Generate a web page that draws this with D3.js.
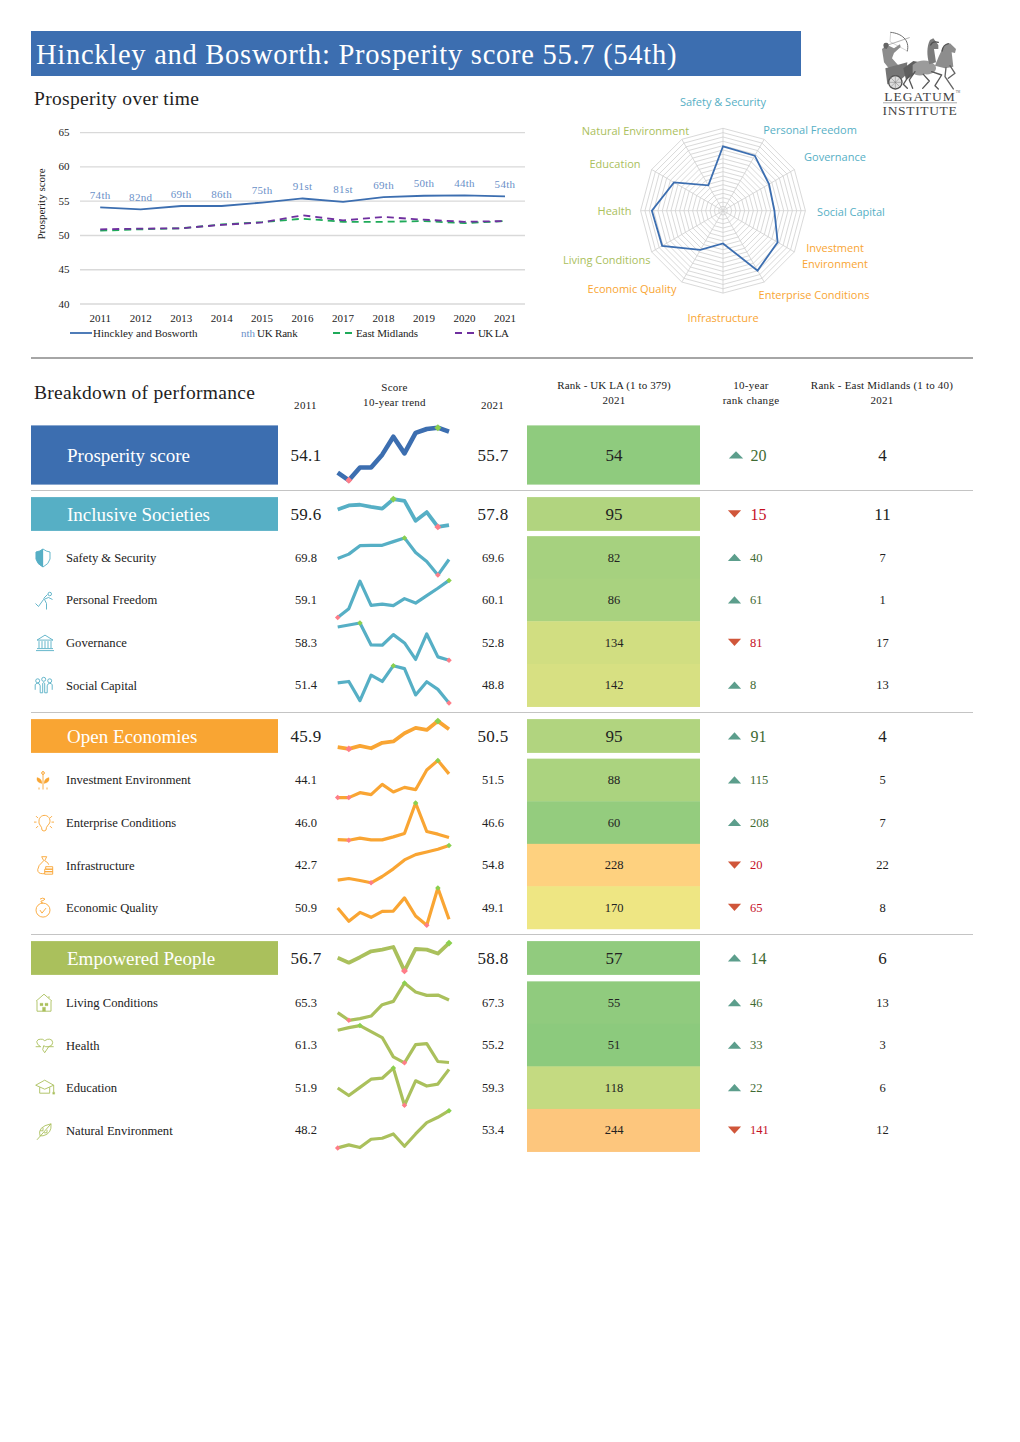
<!DOCTYPE html>
<html><head><meta charset="utf-8">
<script src="https://cdn.jsdelivr.net/npm/d3@7/dist/d3.min.js"></script>
<style>html,body{margin:0;padding:0;background:#fff}svg{display:block;font-family:"Liberation Serif",serif}</style>
</head><body><svg id="c" width="1020" height="1442"></svg>
<script>
// ---------- data ----------
const years=[2011,2012,2013,2014,2015,2016,2017,2018,2019,2020,2021];
const hinckley=[54.1,53.8,54.3,54.3,54.8,55.4,54.9,55.6,55.8,55.85,55.7];
const eastMidlands=[50.7,50.9,51.05,51.6,51.95,52.45,52.0,52.0,52.1,51.8,52.1];
const ukLA=[50.9,51.0,51.05,51.55,51.9,52.95,52.2,52.7,52.3,52.0,52.1];
const rankLabels=["74th","82nd","69th","86th","75th","91st","81st","69th","50th","44th","54th"];
const yTicks=[40,45,50,55,60,65];

const names=["Prosperity score","Inclusive Societies","Safety & Security","Personal Freedom","Governance","Social Capital","Open Economies","Investment Environment","Enterprise Conditions","Infrastructure","Economic Quality","Empowered People","Living Conditions","Health","Education","Natural Environment"];
const score2011=["54.1","59.6","69.8","59.1","58.3","51.4","45.9","44.1","46.0","42.7","50.9","56.7","65.3","61.3","51.9","48.2"];
const score2021=["55.7","57.8","69.6","60.1","52.8","48.8","50.5","51.5","46.6","54.8","49.1","58.8","67.3","55.2","59.3","53.4"];
const ranks=[54,95,82,86,134,142,95,88,60,228,170,57,55,51,118,244];
const rankChange=[20,-15,40,61,-81,8,91,115,208,-20,-65,14,46,33,22,-141];
const regionRanks=[4,11,7,1,17,13,4,5,7,22,8,6,13,3,6,12];

const trendProsperity=[54.1,53.8,54.3,54.3,54.8,55.5,54.85,55.65,55.8,55.85,55.7];
const trendInclusive=[59.6,60.07,60.15,59.9,59.7,60.8,60.6,58.3,59.3,57.6,57.8];
const trendSafety=[69.8,70.45,71.7,71.75,71.75,72.3,72.85,70.7,69.35,67.35,69.65];
const trendFreedom=[59.1,59.34,60.08,59.43,59.46,59.42,59.61,59.49,59.69,59.89,60.1];
const trendGovernance=[58.3,58.63,58.96,55.33,55.28,57.04,55.66,52.92,57.15,53.35,52.8];
const trendSocial=[51.4,51.57,49.1,52.38,51.57,53.61,53.23,49.83,51.53,50.55,48.8];
const trendOpen=[45.9,45.47,46.25,45.64,47.03,47.38,49.47,50.86,50.33,52.6,50.5];
const trendInvestment=[44.1,44.1,45.64,45.02,48.21,45.85,47.29,46.57,52.73,55.71,51.5];
const trendEnterprise=[46,45.8,46.4,45.9,45.9,46.8,47.8,56.9,48.4,47.6,46.6];
const trendInfrastructure=[42.7,43.28,42.58,41.77,43.98,46.65,49.79,51.65,52.58,53.51,54.8];
const trendEconomic=[50.9,48.78,50.21,49.42,50.37,50.42,52.54,49.63,48.15,54.13,49.1];
const trendEmpowered=[56.7,56.0,56.79,57.63,57.87,58.24,54.83,57.96,57.87,57.31,58.8];
const trendLiving=[65.3,64.09,64.35,64.77,66.56,67.09,69.98,68.56,68.04,68.09,67.3];
const trendHealth=[61.3,61.8,62.18,61.05,59.93,56.3,55.18,58.61,58.8,55.43,55.24];
const trendEducation=[51.9,48.91,52.16,55.41,55.8,59.82,45.02,54.76,52.68,53.46,59.3];
const trendNatural=[48.2,48.62,48.25,49.41,49.55,50.15,48.43,50.15,51.73,52.48,53.4];
const trends=[trendProsperity,trendInclusive,trendSafety,trendFreedom,trendGovernance,trendSocial,trendOpen,trendInvestment,trendEnterprise,trendInfrastructure,trendEconomic,trendEmpowered,trendLiving,trendHealth,trendEducation,trendNatural];

const radarLabels=["Safety & Security","Personal Freedom","Governance","Social Capital","Investment|Environment","Enterprise Conditions","Infrastructure","Economic Quality","Living Conditions","Health","Education","Natural Environment"];
const radarRanks=[82,86,134,142,88,60,228,170,55,51,118,244];

// ---------- layout / style ----------
const BLUE="#3c6eb0",TEAL="#56afc5",ORANGE="#f9a533",GREEN="#aac05c";
const rowKinds=["main","head","sub","sub","sub","sub","head","sub","sub","sub","sub","head","sub","sub","sub","sub"];
const rowCY=[455,514,557.5,600,642.6,685.3,736,780,822.6,865.2,907.6,958,1002.7,1045.2,1087.7,1130.3];
const rowCol=[BLUE,TEAL,TEAL,TEAL,TEAL,TEAL,ORANGE,ORANGE,ORANGE,ORANGE,ORANGE,GREEN,GREEN,GREEN,GREEN,GREEN];
const halfCell={main:29.6,head:16.9,sub:21.35};
const halfSpark={main:26.3,head:13.9,sub:18.6};
const fs={main:17,head:17,sub:12.5};

const svg=d3.select("#c");
const T=(g,x,y,s,o={})=>{const t=g.append("text").attr("x",x).attr("y",y).text(s)
  .attr("font-size",o.size||12).attr("fill",o.fill||"#222").attr("text-anchor",o.anchor||"start");
  if(o.ls)t.attr("letter-spacing",o.ls); if(o.family)t.attr("font-family",o.family); return t;};

// title
svg.append("rect").attr("x",31).attr("y",31).attr("width",770).attr("height",45).attr("fill",BLUE);
T(svg,36,64,"Hinckley and Bosworth: Prosperity score 55.7 (54th)",{size:28.5,fill:"#fff",ls:"0.73px"});
T(svg,34,105,"Prosperity over time",{size:19.5,ls:"0.3px"});

// line chart
const x=d3.scalePoint().domain(years).range([100.2,505]);
const y=d3.scaleLinear().domain([40,65]).range([304,132.7]);
const lc=svg.append("g");
lc.append("g").selectAll("line").data(yTicks).join("line")
  .attr("x1",80).attr("x2",525).attr("y1",d=>y(d)).attr("y2",d=>y(d)).attr("stroke","#d9d9d9").attr("stroke-width",1.3);
yTicks.forEach(t=>T(lc,64,y(t)+3.5,t,{size:11,anchor:"middle"}));
years.forEach(v=>T(lc,x(v),322,v,{size:11,anchor:"middle"}));
T(lc,0,0,"Prosperity score",{size:11,anchor:"middle"}).attr("transform","translate(44.5,204) rotate(-90)");
const ln=a=>d3.line().x((d,i)=>x(years[i])).y(d=>y(d))(a);
lc.append("path").attr("d",ln(eastMidlands)).attr("fill","none").attr("stroke","#1faa59").attr("stroke-width",1.8).attr("stroke-dasharray","7,5");
lc.append("path").attr("d",ln(ukLA)).attr("fill","none").attr("stroke","#6f2f9f").attr("stroke-width",1.8).attr("stroke-dasharray","7,5");
lc.append("path").attr("d",ln(hinckley)).attr("fill","none").attr("stroke",BLUE).attr("stroke-width",1.8);
rankLabels.forEach((s,i)=>T(lc,x(years[i]),y(hinckley[i])-8.5,s,{size:11,anchor:"middle",fill:"#6a90c8",ls:"0.3px"}));
// legend
const LY=333;
const leg=(x1,x2,c,dash)=>{const l=lc.append("line").attr("x1",x1).attr("x2",x2).attr("y1",LY).attr("y2",LY).attr("stroke",c).attr("stroke-width",1.8);if(dash)l.attr("stroke-dasharray",dash);};
leg(70,92,BLUE); T(lc,93,LY+4,"Hinckley and Bosworth",{size:11});
T(lc,241,LY+4,"nth",{size:11,fill:"#6a90c8"}); T(lc,257,LY+4,"UK Rank",{size:11,ls:"-0.2px"});
leg(333,353,"#1faa59","7,5"); T(lc,356,LY+4,"East Midlands",{size:11,ls:"-0.1px"});
leg(455,475,"#6f2f9f","7,5"); T(lc,478,LY+4,"UK LA",{size:11,ls:"-0.6px"});

// radar
const RC=[723,210.7],R=82.4;
const r=d3.scaleLinear().domain([379,0]).range([0,R*379/380]);
const ang=i=>i*Math.PI/6;
const pt=(rad,i)=>[RC[0]+rad*Math.sin(ang(i)),RC[1]-rad*Math.cos(ang(i))];
const rg=svg.append("g");
d3.range(20,381,20).forEach(v=>{
  const rad=R*v/380;
  rg.append("path").attr("d",d3.line()(d3.range(12).map(i=>pt(rad,i)))+"Z").attr("fill","none").attr("stroke","#cfcfcf").attr("stroke-width",0.8);
});
d3.range(12).forEach(i=>{const p=pt(R,i);rg.append("line").attr("x1",RC[0]).attr("y1",RC[1]).attr("x2",p[0]).attr("y2",p[1]).attr("stroke","#cfcfcf").attr("stroke-width",0.8);});
rg.append("path").attr("d",d3.line()(radarRanks.map((d,i)=>pt(r(d),i)))+"Z").attr("fill","none").attr("stroke",BLUE).attr("stroke-width",1.8);
const radarLabelAt=[[723,102],[810,129.5],[835,157],[851,211.5],[835,247.5],[814,294.5],[723,317.5],[632,289],[606.7,260],[614.5,211],[615,164],[635.5,130.5]];
const radarCol=[TEAL,TEAL,TEAL,TEAL,ORANGE,ORANGE,ORANGE,ORANGE,GREEN,GREEN,GREEN,GREEN];
radarLabels.forEach((s,i)=>s.split("|").forEach((t,j)=>T(rg,radarLabelAt[i][0],radarLabelAt[i][1]+4+j*16,t,{size:11,anchor:"middle",fill:radarCol[i],family:"'Open Sans'"})));

// logo (hand-drawn approximation of the chariot mark)
const lg=svg.append("g");
const art=lg.append("g").attr("transform","translate(870,25) scale(0.3333)").attr("opacity",0.85);
const P=(d,o={})=>art.append("path").attr("d",d).attr("fill",o.fill||"none").attr("stroke",o.stroke||"none").attr("stroke-width",o.w||1).attr("stroke-linecap","round").attr("stroke-linejoin","round");
P("M62,22C95,25 120,45 112,78",{stroke:"#555",w:3});
P("M62,22L60,50L112,78",{stroke:"#999",w:1.5});
P("M48,62L118,38",{stroke:"#777",w:2});
P("M36,72L52,60L72,70L90,58L92,66L72,84L66,100L82,118L92,128L60,134L42,112Z",{fill:"#7a7a7a"});
P("M40,60A8,8 0 1 1 56,62L50,72L42,70Z",{fill:"#4a4a4a"});
P("M46,130L112,112L108,150L84,172L52,178Z",{fill:"#5d5d5d"});
P("M56,172A20,20 0 1 0 96,172A20,20 0 1 0 56,172",{fill:"#d8d8d8",stroke:"#333",w:4});
P("M76,152V192M56,172H96M62,158L90,186M90,158L62,186",{stroke:"#666",w:1.5});
P("M100,130L130,108L150,112L130,150L108,165Z",{fill:"#444"});
P("M128,120C150,100 180,105 195,120C205,135 190,150 165,148C150,155 135,150 128,145Z",{fill:"#8a8a8a"});
P("M178,118C170,90 170,65 180,45L190,40L205,60L205,72L192,72L198,112Z",{fill:"#666"});
P("M195,122C205,100 212,75 230,58L240,55L258,72L255,84L245,82L250,125L225,130Z",{fill:"#7a7a7a"});
P("M205,52C195,48 185,52 182,60M235,56C225,58 218,68 216,78",{stroke:"#333",w:4});
P("M135,140L118,165L128,190M118,150L100,178L112,190M160,148L178,168L158,190M185,140L215,150L195,182L205,192",{stroke:"#3c3c3c",w:4});
P("M240,122L255,145L235,160M228,128L225,155L250,192",{stroke:"#4a4a4a",w:4});
T(lg,920,100.5,"LEGATUM",{size:13.5,anchor:"middle",fill:"#444",ls:"1px"});
T(lg,958,93,"TM",{size:3,anchor:"middle",fill:"#666"});
lg.append("line").attr("x1",883).attr("x2",957).attr("y1",102.8).attr("y2",102.8).attr("stroke","#888").attr("stroke-width",0.7);
T(lg,920,114.5,"INSTITUTE",{size:13.5,anchor:"middle",fill:"#444",ls:"0.65px"});

// separators
[[358,2],[490.5,1.2],[712.5,1.2],[934.5,1.2]].forEach(([yy,w])=>svg.append("line").attr("x1",31).attr("x2",973).attr("y1",yy).attr("y2",yy).attr("stroke",yy==358?"#a6a6a6":"#c4c4c4").attr("stroke-width",w));

// table header
T(svg,34,398.5,"Breakdown of performance",{size:19.5,ls:"0.28px"});
const hd={size:11,anchor:"middle",ls:"0.3px"};
T(svg,305.5,408.5,"2011",hd);T(svg,492.5,408.5,"2021",hd);
T(svg,394.5,391,"Score",hd);T(svg,394.5,405.5,"10-year trend",hd);
T(svg,614,389,"Rank - UK LA (1 to 379)",{size:11,anchor:"middle",ls:"0.1px"});T(svg,614,403.5,"2021",hd);
T(svg,751,389,"10-year",hd);T(svg,751,403.5,"rank change",hd);
T(svg,882,389,"Rank - East Midlands (1 to 40)",{size:11,anchor:"middle",ls:"0.2px"});T(svg,882,403.5,"2021",hd);

// row icons (decorative line glyphs), drawn around the row centre
const iconShapes={
 2:[[0,"M-7,-6Q-3,-6.5 0,-9Q3,-6.5 7,-6L7,1Q6,6 0,9Q-6,6 -7,1Z"],[1,"M0,-9Q-3,-6.5 -7,-6L-7,1Q-6,6 0,9Z"]],
 3:[[0,"M-9,3L-6,6L-1,-1L4,-3L8,-1M0,-1L2,3L2,9M-1,-2L3,-6M3.5,-6.5A1.7,1.7 0 1 0 7,-6.5A1.7,1.7 0 1 0 3.5,-6.5"]],
 4:[[0,"M-8,-3L0,-8L8,-3ZM-6,-2V5M-3,-2V5M0,-2V5M3,-2V5M6,-2V5M-8,5.5H8M-9,7.5H9"]],
 5:[[0,"M-8,-5A2,2 0 1 0 -4,-5A2,2 0 1 0 -8,-5M-2,-6.5A2,2 0 1 0 2,-6.5A2,2 0 1 0 -2,-6.5M4,-5A2,2 0 1 0 8,-5A2,2 0 1 0 4,-5M-8.5,4V-1Q-8,-2.5 -6,-2.5Q-4,-2.5 -3.5,0V7H-1V-2.5Q0,-4 1,-2.5V7H3.5V0Q4,-2.5 6,-2.5Q8,-2.5 8.5,-1V4"]],
 7:[[0,"M0,-9V9M-4,7V9M4,7V9"],[1,"M-1,3Q-7,2 -6,-3Q-1,-2 -1,3ZM1,3Q7,2 6,-3Q1,-2 1,3Z"],[0,"M0,-9A1.5,1.5 0 1 0 0.1,-9"]],
 8:[[0,"M-5,-2A5.5,5.5 0 1 1 4,2Q2,4 2,7Q0,9 -2,7Q-2,4 -4,2Q-5.5,0 -5,-2M-10,-1H-7.5M7.5,-1H10M-8,-7L-6,-5M8,-7L6,-5M-8,5L-6,3M8,5L6,3"]],
 9:[[0,"M-3,-9H2L0,-5Q4,-3 4,-1M-3,-9L-1,-5Q-7,0 -7,4Q-7,8 -2,8H0M1,1H8V3.5H1ZM0,3.5H8V6H0ZM0,6H8V8.5H0Z"]],
 10:[[0,"M-7,2A7,7 0 1 0 7,2A7,7 0 1 0 -7,2M-3,2L-1,5L3,0M-3,-9Q0,-11 2,-9Q0,-7 -2,-7Q-3,-6 0,-5"]],
 12:[[0,"M-8,-2L0,-9L8,-2M-7,-2V8H7V-2M5,-7V-5"],[1,"M-4,0H-1V2.5H-4ZM1,0H4V2.5H1ZM-1.5,4H1.5V8H-1.5Z"]],
 13:[[0,"M-4,1Q-8,-1 -8,-4Q-7,-7 -4,-6.5Q-2,-7 0,-5Q3,-7 5,-6.5Q8,-6 8,-3Q8,0 4,1L0,7L-2,4L-1,0L1,1H9M-9,1H-4"]],
 14:[[0,"M-9,-3L0,-8L9,-3L0,1ZM-5,-1V5H5V-1M9,-3V4"],[1,"M8,4H10V6H8Z"]],
 15:[[0,"M-7,9L7,-7M-4,5Q-7,-4 7,-7Q8,3 -1,5ZM-4,0H-1V-3M0,2H3V-1"]]
};
const iconDX={2:0,3:1.5,4:2,5:0.7,7:0,8:1,9:1.7,10:0,12:1,13:1.7,14:1.7,15:1};

// rows
const rankColor=d3.scaleLinear().domain([1,190,379]).range(["#63BE7B","#FFEB84","#F8696B"]);
const sx=d3.scalePoint().domain(years).range([337.7,449]);
names.forEach((name,i)=>{
  const k=rowKinds[i],cy=rowCY[i],c=rowCol[i],h=halfCell[k],f=fs[k],b=f*0.33;
  const g=svg.append("g");
  if(k!="sub"){
    g.append("rect").attr("x",31).attr("y",cy-h).attr("width",247).attr("height",2*h).attr("fill",c);
    T(g,67,cy+6.8,name,{size:19,fill:"#fff"});
  } else {
    T(g,66,cy+4.3,name,{size:12.6});
    const ig=g.append("g").attr("transform",`translate(${43+iconDX[i]},${cy+0.5})`);
    iconShapes[i].forEach(([fill,d])=>ig.append("path").attr("d",d).attr("fill",fill?c:"none").attr("stroke",c).attr("stroke-width",fill?0.3:0.9));
  }
  T(g,306,cy+b,score2011[i],{size:f,anchor:"middle",ls:k=="sub"?null:"0.3px"});
  T(g,493,cy+b,score2021[i],{size:f,anchor:"middle",ls:k=="sub"?null:"0.3px"});
  g.append("rect").attr("x",527).attr("y",cy-h).attr("width",173).attr("height",2*h+(k=="sub"?0.3:0)).attr("fill",rankColor(ranks[i]));
  T(g,614,cy+b,ranks[i],{size:f,anchor:"middle"});
  const up=rankChange[i]>0,tw=k=="main"?7.2:6.6,tx=k=="main"?736:734.5;
  g.append("path").attr("d",up?`M${tx-tw},${cy+3.5}L${tx},${cy-3.8}L${tx+tw},${cy+3.5}Z`:`M${tx-tw},${cy-3.8}L${tx},${cy+3.5}L${tx+tw},${cy-3.8}Z`).attr("fill",up?"#5c9e8c":"#d0563a");
  T(g,k=="sub"?750:750.5,cy+b,Math.abs(rankChange[i]),{size:k=="sub"?12.5:16,fill:up?"#3f6b34":"#c5101f"});
  T(g,882.5,cy+b,regionRanks[i],{size:f,anchor:"middle"});
  // sparkline
  const d=trends[i],hs=halfSpark[k];
  const sy=d3.scaleLinear().domain(d3.extent(d)).range([cy-1+hs,cy-1-hs]);
  const sw=k=="main"?4.6:k=="head"?3.8:3.2;
  g.append("path").attr("d",d3.line().x((v,j)=>sx(years[j])).y(v=>sy(v))(d)).attr("fill","none").attr("stroke",c).attr("stroke-width",sw).attr("stroke-linejoin","round");
  const [mn,mx]=d3.extent(d);
  const sym=d3.symbol().type(d3.symbolSquare).size(k=="sub"?15:24);
  d.forEach((v,j)=>{
    if(v==mn||v==mx) g.append("path").attr("d",sym()).attr("transform",`translate(${sx(years[j])},${sy(v)}) rotate(45)`).attr("fill",v==mn?"#ff7d88":"#8bd04e");
  });
});
</script></body></html>
